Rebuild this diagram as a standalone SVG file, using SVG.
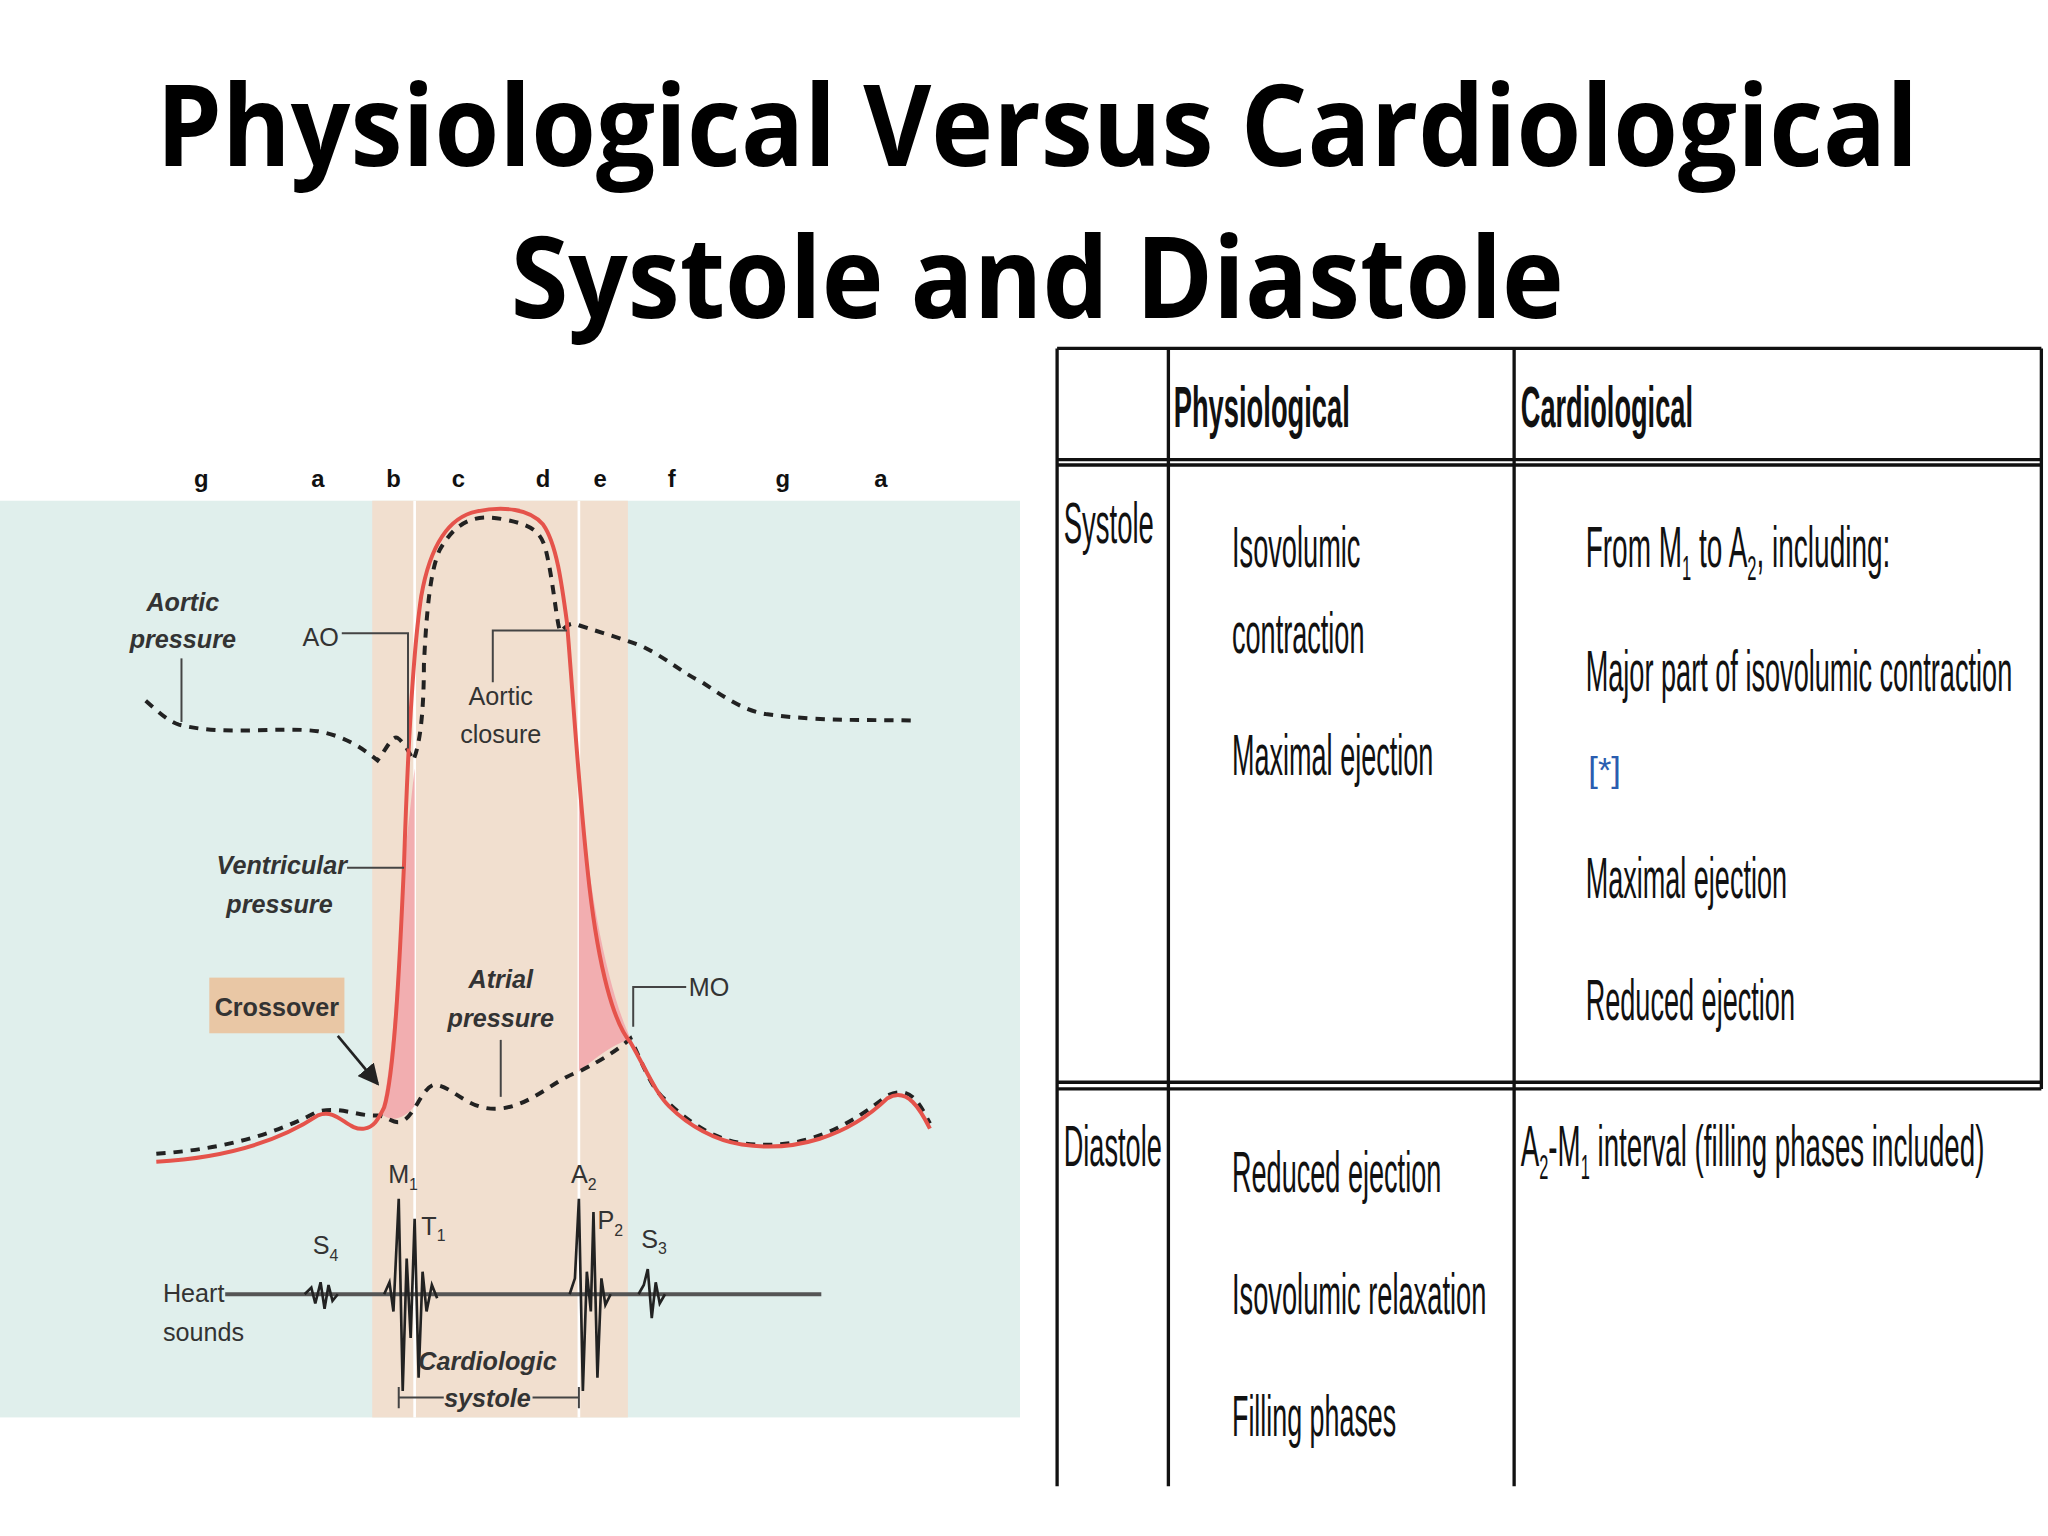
<svg xmlns="http://www.w3.org/2000/svg" width="2048" height="1536" viewBox="0 0 2048 1536">
<style>
.t{font-family:"Liberation Sans",Arial,sans-serif;fill:#111}
.tb{font-family:"Liberation Sans",Arial,sans-serif;font-size:44px;fill:#111}
.lab{font-family:"Liberation Sans",Arial,sans-serif;font-size:19px;fill:#333}
.il{font-family:"Liberation Sans",Arial,sans-serif;font-size:19px;font-weight:bold;font-style:italic;fill:#333}
.dash{fill:none;stroke:#222;stroke-width:3;stroke-dasharray:7 6}
.red{fill:none;stroke:#e5534b;stroke-width:3}
.ld{fill:none;stroke:#444;stroke-width:1.5}
.tl{stroke:#111;stroke-width:2.5}
</style>
<defs><marker id="ah" markerWidth="8" markerHeight="8" refX="7" refY="4" orient="auto"><path d="M0,0 L8,4 L0,8 z" fill="#222"/></marker></defs>
<rect width="2048" height="1536" fill="#fff"/>
<g transform="scale(1.3247)">
<g id="title" font-family="'Open Sans','Liberation Sans',sans-serif" font-weight="bold" font-size="86" fill="#000" text-anchor="middle">
<text x="783" y="125" textLength="1330" lengthAdjust="spacingAndGlyphs">Physiological Versus Cardiological</text>
<text x="783" y="240" textLength="795" lengthAdjust="spacingAndGlyphs">Systole and Diastole</text>
</g>
<g id="chart">
<rect x="0" y="378" width="770" height="692" fill="#e0efec"/>
<rect x="281" y="378" width="193" height="692" fill="#f1dfcf"/>
<line x1="313" y1="378" x2="313" y2="1070" stroke="#fff" stroke-width="2"/>
<line x1="437" y1="378" x2="437" y2="1070" stroke="#fff" stroke-width="2"/>
<g class="t" font-size="18" font-weight="bold" text-anchor="middle" fill="#444">
<text x="152" y="368">g</text><text x="240" y="368">a</text><text x="297" y="368">b</text><text x="346" y="368">c</text><text x="410" y="368">d</text><text x="453" y="368">e</text><text x="507" y="368">f</text><text x="591" y="368">g</text><text x="665" y="368">a</text>
</g>
<path d="M287,840 C296,820 302,700 305,652 L313,580 L313,835 C305,845 295,848 287,840 Z" fill="#f2aeb0"/>
<path d="M437,590 C445,680 460,750 476,784 C460,790 448,800 437,809 Z" fill="#f2aeb0"/>
<path class="dash" d="M110,529 C120,538 128,545 135,547 C170,556 210,548 240,552 C262,556 275,566 285,574 C292,565 296,555 300,557 C305,560 310,570 312,574 C318,560 320,530 320,502 C322,460 325,430 332,415 C345,392 360,388 380,392 C400,396 408,400 412,415 C418,440 420,470 423,477 C430,470 432,470 437,472 C455,478 470,482 485,488 C505,498 515,508 530,515 C545,525 560,536 578,539 C620,545 660,543 690,544"/>
<path class="dash" d="M118,871 C160,868 200,860 240,839 C258,835 270,843 285,842 C293,843 296,848 302,847 C312,845 318,822 327,819 C340,818 352,838 375,837 C400,836 418,815 437,809 C455,800 467,792 476,784 C486,805 492,822 502,830 C520,848 540,860 560,863 C600,868 630,858 670,827 C688,818 695,835 702,848"/>
<path class="red" d="M118,877 C170,874 210,862 240,842 C255,836 262,854 275,852 C282,851 285,846 290,836 C298,810 302,720 305,652 C308,560 312,490 318,450 C325,410 340,390 360,386 C380,382 400,384 410,396 C420,410 424,440 428,470 C433,530 437,600 445,670 C452,730 463,772 476,787 C488,808 495,825 505,835 C520,850 540,861 560,864 C600,870 640,858 670,829 C685,820 695,838 702,852"/>
<g id="labels">
<text class="il" text-anchor="middle" x="138" y="461">Aortic</text>
<text class="il" text-anchor="middle" x="138" y="489">pressure</text>
<polyline class="ld" points="137,497 137,545"/>
<text class="lab" text-anchor="middle" x="242" y="488">AO</text>
<polyline class="ld" points="258,478 308,478 308,565"/>
<text class="lab" text-anchor="middle" x="378" y="532">Aortic</text>
<text class="lab" text-anchor="middle" x="378" y="561">closure</text>
<polyline class="ld" points="372,515 372,476 428,476"/>
<text class="il" text-anchor="end" x="262" y="660">Ventricular</text>
<text class="il" text-anchor="middle" x="211" y="689">pressure</text>
<polyline class="ld" points="262,655 305,655"/>
<rect x="158" y="738" width="102" height="42" fill="#e9c7a5"/>
<text class="il" style="font-style:normal" text-anchor="middle" x="209" y="767">Crossover</text>
<line x1="255" y1="782" x2="285" y2="818" stroke="#222" stroke-width="2" marker-end="url(#ah)"/>
<text class="il" text-anchor="middle" x="378" y="746">Atrial</text>
<text class="il" text-anchor="middle" x="378" y="775">pressure</text>
<polyline class="ld" points="378,785 378,828"/>
<text class="lab" x="520" y="752">MO</text>
<polyline class="ld" points="518,745 478,745 478,775"/>
</g>
<g id="sounds">
<line x1="170" y1="977" x2="620" y2="977" stroke="#555" stroke-width="3"/>
<text class="lab" x="123" y="983">Heart</text>
<text class="lab" x="123" y="1012">sounds</text>
<text class="lab" x="236" y="947">S<tspan font-size="12" dy="5">4</tspan></text>
<polyline fill="none" stroke="#222" stroke-width="2" points="230,977 235,972 238,984 242,968 245,988 248,970 251,982 255,977"/>
<polyline fill="none" stroke="#222" stroke-width="2" points="290,977 294,968 297,990 301,905 304,1050 307,950 310,1010 313,920 316,1040 319,960 322,990 326,970 330,980"/>
<text class="lab" x="293" y="893">M<tspan font-size="12" dy="5">1</tspan></text>
<text class="lab" x="318" y="932">T<tspan font-size="12" dy="5">1</tspan></text>
<polyline fill="none" stroke="#222" stroke-width="2" points="430,977 434,965 437,905 440,1050 443,960 446,990 448,915 451,1040 454,965 457,985 461,977"/>
<text class="lab" x="431" y="893">A<tspan font-size="12" dy="5">2</tspan></text>
<text class="lab" x="451" y="928">P<tspan font-size="12" dy="5">2</tspan></text>
<text class="lab" x="484" y="942">S<tspan font-size="12" dy="5">3</tspan></text>
<polyline fill="none" stroke="#222" stroke-width="2" points="482,977 486,970 489,958 492,995 495,968 498,984 502,977"/>
<text class="il" text-anchor="middle" x="368" y="1034">Cardiologic</text>
<text class="il" text-anchor="middle" x="368" y="1062">systole</text>
<polyline class="ld" points="301,1047 301,1063 301,1055 335,1055"/>
<polyline class="ld" points="402,1055 437,1055 437,1047 437,1063"/>
</g>
</g>
<g id="table">
<line class="tl" x1="798" y1="263" x2="1541" y2="263" stroke-width="3.5"/>
<line class="tl" x1="798" y1="347" x2="1541" y2="347" stroke-width="3"/>
<line class="tl" x1="798" y1="351" x2="1541" y2="351" stroke-width="1.5"/>
<line class="tl" x1="798" y1="817" x2="1541" y2="817" stroke-width="3"/>
<line class="tl" x1="798" y1="822" x2="1541" y2="822" stroke-width="1.5"/>
<line class="tl" x1="798" y1="263" x2="798" y2="1122" stroke-width="2"/>
<line class="tl" x1="882" y1="263" x2="882" y2="1122"/>
<line class="tl" x1="1143" y1="263" x2="1143" y2="1122"/>
<line class="tl" x1="1541" y1="263" x2="1541" y2="822"/>
<g class="tb">
<text x="886" y="322" font-weight="bold" textLength="133" lengthAdjust="spacingAndGlyphs">Physiological</text>
<text x="1148" y="322" font-weight="bold" textLength="130" lengthAdjust="spacingAndGlyphs">Cardiological</text>
<text x="803" y="410" textLength="68" lengthAdjust="spacingAndGlyphs">Systole</text>
<text x="930" y="428" textLength="97" lengthAdjust="spacingAndGlyphs">Isovolumic</text>
<text x="930" y="493" textLength="100" lengthAdjust="spacingAndGlyphs">contraction</text>
<text x="930" y="585" textLength="152" lengthAdjust="spacingAndGlyphs">Maximal ejection</text>
<text x="1197" y="428" textLength="230" lengthAdjust="spacingAndGlyphs">From M<tspan font-size="26" dy="10">1</tspan><tspan dy="-10"> to A</tspan><tspan font-size="26" dy="10">2</tspan><tspan dy="-10">, including:</tspan></text>
<text x="1197" y="522" textLength="322" lengthAdjust="spacingAndGlyphs">Major part of isovolumic contraction</text>
<text x="1199" y="590" font-size="26" fill="#2a5db0">[*]</text>
<text x="1197" y="678" textLength="152" lengthAdjust="spacingAndGlyphs">Maximal ejection</text>
<text x="1197" y="770" textLength="158" lengthAdjust="spacingAndGlyphs">Reduced ejection</text>
<text x="803" y="880" textLength="74" lengthAdjust="spacingAndGlyphs">Diastole</text>
<text x="930" y="900" textLength="158" lengthAdjust="spacingAndGlyphs">Reduced ejection</text>
<text x="930" y="992" textLength="192" lengthAdjust="spacingAndGlyphs">Isovolumic relaxation</text>
<text x="930" y="1084" textLength="124" lengthAdjust="spacingAndGlyphs">Filling phases</text>
<text x="1148" y="880" textLength="350" lengthAdjust="spacingAndGlyphs">A<tspan font-size="26" dy="10">2</tspan><tspan dy="-10">-M</tspan><tspan font-size="26" dy="10">1</tspan><tspan dy="-10"> interval (filling phases included)</tspan></text>
</g>
</g>
</g>
</svg>
